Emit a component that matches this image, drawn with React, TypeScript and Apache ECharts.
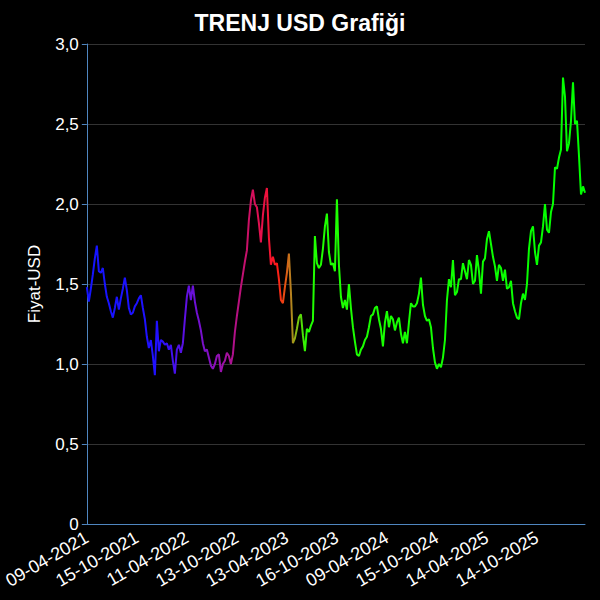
import React, { useEffect, useRef } from "react";
import * as echarts from "echarts";

const titleText = "TRENJ USD Grafiği";
const yAxisName = "Fiyat-USD";

// Date labels shown every 25 points along the x axis
const tickLabels = [
  "09-04-2021", "15-10-2021", "11-04-2022", "13-10-2022", "13-04-2023",
  "16-10-2023", "09-04-2024", "15-10-2024", "14-04-2025", "14-10-2025",
];
const tickEvery = 25;

// Price series (USD)
const prices = [
  1.48, 1.39, 1.47, 1.56, 1.66, 1.74, 1.58, 1.57, 1.60, 1.50,
  1.42, 1.38, 1.33, 1.29, 1.35, 1.42, 1.34, 1.41, 1.47, 1.54,
  1.46, 1.35, 1.31, 1.32, 1.36, 1.38, 1.41, 1.43, 1.35, 1.28,
  1.17, 1.10, 1.15, 1.05, 0.93, 1.27, 1.08, 1.15, 1.14, 1.12,
  1.13, 1.09, 1.12, 1.02, 0.94, 1.09, 1.12, 1.07, 1.13, 1.28,
  1.42, 1.49, 1.40, 1.49, 1.39, 1.32, 1.27, 1.21, 1.13, 1.08,
  1.09, 1.04, 0.99, 0.97, 1.00, 1.05, 1.06, 0.95, 1.00, 1.02,
  1.07, 1.05, 1.00, 1.06, 1.20, 1.30, 1.39, 1.48, 1.56, 1.64,
  1.71, 1.90, 2.02, 2.09, 2.00, 1.98, 1.88, 1.76, 1.93, 2.04,
  2.10, 1.79, 1.62, 1.67, 1.62, 1.63, 1.53, 1.40, 1.38, 1.48,
  1.57, 1.69, 1.45, 1.13, 1.16, 1.22, 1.29, 1.31, 1.18, 1.08,
  1.22, 1.20, 1.24, 1.27, 1.80, 1.63, 1.60, 1.62, 1.72, 1.86,
  1.94, 1.70, 1.62, 1.63, 1.58, 2.03, 1.62, 1.42, 1.35, 1.40,
  1.34, 1.50, 1.35, 1.23, 1.14, 1.06, 1.05, 1.09, 1.11, 1.15,
  1.17, 1.23, 1.30, 1.31, 1.35, 1.36, 1.28, 1.22, 1.11, 1.26,
  1.33, 1.23, 1.30, 1.28, 1.21, 1.26, 1.29, 1.19, 1.13, 1.20,
  1.13, 1.26, 1.38, 1.36, 1.36, 1.38, 1.44, 1.54, 1.37, 1.30,
  1.27, 1.28, 1.23, 1.10, 1.01, 0.97, 1.00, 0.98, 1.04, 1.15,
  1.40, 1.53, 1.48, 1.65, 1.43, 1.45, 1.53, 1.53, 1.63, 1.58,
  1.53, 1.65, 1.62, 1.50, 1.52, 1.68, 1.58, 1.44, 1.64, 1.66,
  1.78, 1.83, 1.75, 1.67, 1.61, 1.52, 1.62, 1.60, 1.52, 1.59,
  1.47, 1.48, 1.52, 1.38, 1.33, 1.29, 1.28, 1.38, 1.44, 1.40,
  1.50, 1.72, 1.83, 1.86, 1.70, 1.62, 1.74, 1.76, 1.86, 2.00,
  1.84, 1.82, 1.95, 2.00, 2.23, 2.22, 2.29, 2.34, 2.79, 2.67,
  2.33, 2.38, 2.52, 2.76, 2.50, 2.52, 2.30, 2.06, 2.11, 2.07,
];

const categories = prices.map((_, i) =>
  i % tickEvery === 0 && i / tickEvery < tickLabels.length
    ? tickLabels[i / tickEvery]
    : String(i)
);

export default function App() {
  const ref = useRef<HTMLDivElement>(null);

  useEffect(() => {
    if (!ref.current) return;
    const chart = echarts.init(ref.current, undefined, { renderer: "svg" });
    const n = prices.length - 1;
    const stop = (i: number) => i / n;
    const lineGradient = new echarts.graphic.LinearGradient(0, 0, 1, 0, [
      { offset: 0, color: "#1414ff" },
      { offset: stop(35), color: "#2010ff" },
      { offset: stop(50), color: "#6010e0" },
      { offset: stop(65), color: "#9010b8" },
      { offset: stop(80), color: "#c81068" },
      { offset: stop(88), color: "#e81048" },
      { offset: stop(95), color: "#ff1818" },
      { offset: stop(99), color: "#e85010" },
      { offset: stop(102), color: "#b88020" },
      { offset: stop(105), color: "#80c010" },
      { offset: stop(110), color: "#20ff00" },
      { offset: 1, color: "#00ff00" },
    ]);

    chart.setOption({
      animation: false,
      backgroundColor: "#000000",
      title: {
        text: titleText,
        left: "center",
        top: 6,
        textStyle: {
          color: "#ffffff",
          fontSize: 23,
          fontWeight: "bold",
          fontFamily: "Arial, 'Liberation Sans', sans-serif",
        },
      },
      grid: { left: 85, right: 15, top: 44, bottom: 76, containLabel: false },
      xAxis: {
        type: "category",
        data: categories,
        boundaryGap: false,
        axisLine: { show: true, lineStyle: { color: "#4f86c0", width: 1 } },
        axisTick: { show: false },
        splitLine: { show: false },
        axisLabel: {
          color: "#ffffff",
          fontSize: 18,
          fontFamily: "Arial, 'Liberation Sans', sans-serif",
          rotate: 30,
          margin: 12,
          interval: (i: number) =>
            i % tickEvery === 0 && i / tickEvery < tickLabels.length,
        },
      },
      yAxis: {
        type: "value",
        min: 0,
        max: 3,
        interval: 0.5,
        name: yAxisName,
        nameLocation: "middle",
        nameGap: 44,
        nameTextStyle: {
          color: "#ffffff",
          fontSize: 17,
          fontFamily: "Arial, 'Liberation Sans', sans-serif",
        },
        axisLine: { show: true, lineStyle: { color: "#4f86c0", width: 1 } },
        axisTick: { show: true, length: 5, lineStyle: { color: "#4f86c0" } },
        splitLine: { show: true, lineStyle: { color: "#333333", width: 1 } },
        axisLabel: {
          color: "#ffffff",
          fontSize: 17,
          margin: 8,
          fontFamily: "Arial, 'Liberation Sans', sans-serif",
          formatter: (v: number) =>
            v === 0 ? "0" : v.toFixed(1).replace(".", ","),
        },
      },
      series: [
        {
          type: "line",
          data: prices,
          showSymbol: false,
          symbol: "none",
          lineStyle: { width: 2, color: lineGradient },
        },
      ],
    });

    return () => chart.dispose();
  }, []);

  return (
    <div
      ref={ref}
      style={{
        position: "fixed",
        left: 0,
        top: 0,
        width: 600,
        height: 600,
        background: "#000",
      }}
    />
  );
}
